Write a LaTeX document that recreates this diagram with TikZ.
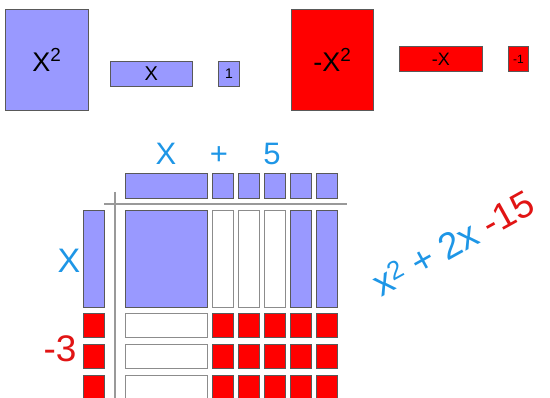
\documentclass[tikz,border=0pt]{standalone}
\usepackage{fontspec}
\setmainfont{Liberation Sans}
\definecolor{tileblue}{RGB}{153,153,255}
\definecolor{tilered}{RGB}{255,0,0}
\definecolor{txtblue}{RGB}{30,150,230}
\definecolor{txtred}{RGB}{225,20,20}
\tikzset{
  tile/.style={draw=black!65, line width=0.8pt, inner sep=0pt, anchor=north west},
  postile/.style={tile, fill=tileblue},
  negtile/.style={tile, fill=tilered},
  zerotile/.style={tile, draw=black!45, fill=white},
  bigfont/.style={font=\fontsize{31}{31}\selectfont},
}
\begin{document}
\begin{tikzpicture}[x=1pt, y=-1pt]
    \useasboundingbox (0,0) rectangle (550,398);

    % Bo tile o tren
    \node[postile, minimum width=83pt, minimum height=101pt] (xsq) at (5,9)
        {\fontsize{27}{27}\selectfont X\textsuperscript{2}};
    \node[postile, minimum width=82pt, minimum height=25pt] (xbar) at (110,61)
        {\fontsize{20}{20}\selectfont X};
    \node[postile, minimum width=21pt, minimum height=25pt] (one) at (218,61)
        {\fontsize{14}{14}\selectfont 1};
    \node[negtile, minimum width=82pt, minimum height=101pt] (nxsq) at (291,9)
        {\fontsize{27}{27}\selectfont -X\textsuperscript{2}};
    \node[negtile, minimum width=83pt, minimum height=25pt] (nxbar) at (399,46)
        {\fontsize{18}{18}\selectfont -X};
    \node[negtile, minimum width=20pt, minimum height=25pt] (none) at (508,46)
        {\fontsize{12}{12}\selectfont -1};

    % Nhan x + 5
    \node[bigfont, text=txtblue, anchor=base] (lx) at (166,165) {X};
    \node[bigfont, text=txtblue, anchor=base] (lplus) at (219,165) {+};
    \node[bigfont, text=txtblue, anchor=base] (lfive) at (272,165) {5};

    % Hang tren: x + 5
    \node[postile, minimum width=82pt, minimum height=25pt] (hx) at (125,173) {};
    \foreach \j in {1,...,5}
        \node[postile, minimum width=21pt, minimum height=25pt] (h\j) at ({212+26*(\j-1)},173) {};

    % Duong ke
    \draw[black!40, line width=1.2pt] (104,204) -- (347,204);
    \draw[black!40, line width=1.2pt] (115,192) -- (115,398);

    % Cot trai: x - 3
    \node[postile, minimum width=21pt, minimum height=97pt] (cx) at (83,210) {};
    \foreach \i in {1,2,3}
        \node[negtile, minimum width=21pt, minimum height=24pt] (c\i) at (83,{313+31*(\i-1)}) {};
    \node[text=txtblue, anchor=base, font=\fontsize{34}{34}\selectfont] (ly) at (69,273) {X};
    \node[text=txtred, anchor=base, font=\fontsize{37}{37}\selectfont] (lm) at (60,362) {-3};

    % Phan tich: x^2, x, -x
    \node[postile, minimum width=82pt, minimum height=97pt] (bx) at (125,210) {};
    \foreach \j in {1,2,3}
        \node[zerotile, minimum width=21pt, minimum height=97pt] (bc\j) at ({212+26*(\j-1)},210) {};
    \foreach \j in {4,5}
        \node[postile, minimum width=21pt, minimum height=97pt] (bc\j) at ({212+26*(\j-1)},210) {};

    % Cac hang -3
    \foreach \i in {1,2,3} {
        \node[zerotile, minimum width=82pt, minimum height=24pt] (br\i) at (125,{313+31*(\i-1)}) {};
        \foreach \j in {1,...,5}
            \node[negtile, minimum width=21pt, minimum height=24pt] (u\i\j) at ({212+26*(\j-1)},{313+31*(\i-1)}) {};
    }

    % Ket qua
    \node[rotate=29, inner sep=0pt, font=\fontsize{37}{37}\selectfont] (res) at (453,243)
        {\textcolor{txtblue}{x\textsuperscript{2} + 2x} \textcolor{txtred}{-15}};
\end{tikzpicture}
\end{document}
